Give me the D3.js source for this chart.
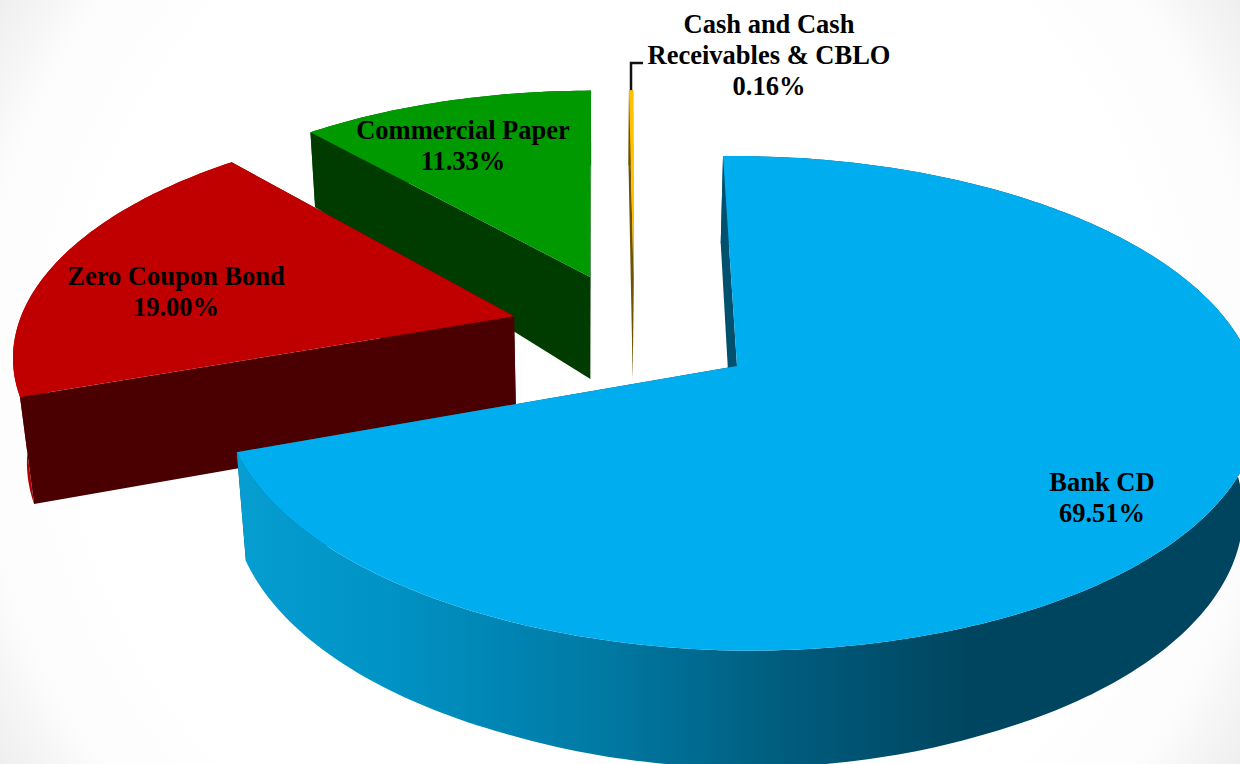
<!DOCTYPE html>
<html>
<head>
<meta charset="utf-8">
<script src="https://cdn.jsdelivr.net/npm/d3@7/dist/d3.min.js"></script>
<style>html,body{margin:0;padding:0;background:#fff;overflow:hidden}svg{display:block}</style>
</head>
<body>
<svg id="c" width="1240" height="764"></svg>
<script>
const categories = ["Bank CD", "Zero Coupon Bond", "Commercial Paper", "Cash and Cash Receivables & CBLO"];
const values = [69.51, 19.00, 11.33, 0.16];
const valueLabels = ["69.51%", "19.00%", "11.33%", "0.16%"];

const topColors = ["#00aeef", "#c00000", "#009900", "#ffc000"];
const cutColors = ["#00506e", "#4a0000", "#003c00", "#6e5400"];
const rimColors = ["url(#rimBlue)", "#b00000", "#006600", "#6e5400"];
// explode offsets of each slice on the pie's plane, in radii
const explodeX = [0, -0.45, -0.304, -0.214];
const explodeY = [0, 0.198, 0.38, 0.38];
const radii = [1, 1, 0.985, 0.99];
const labelLines = [["Bank CD", "69.51%"], ["Zero Coupon Bond", "19.00%"], ["Commercial Paper", "11.33%"], ["Cash and Cash", "Receivables & CBLO", "0.16%"]];
const labelX = [1102, 176, 463, 769];
const labelY = [491, 285, 139, 33];

const W = 1240, H = 764, cx = 737, cy = 366, R = 512, tilt = 0.472, persp = 0.151, perspX = -0.008;
const skewY = d3.scaleLinear().domain([-1, 0, 1]).range([-7.7, 0, 3]);
const vanish = [600, 4800];
const extrude = d3.scaleLinear().domain([133, 157, 277, 396, 620, 680]).range([75, 88, 102, 107, 114, 120]).clamp(true);

const svg = d3.select("#c");
const defs = svg.append("defs");
const bg = defs.append("radialGradient").attr("id", "bg").attr("gradientUnits", "userSpaceOnUse")
  .attr("cx", W / 2).attr("cy", H / 2).attr("r", 760);
[[0.7, "#ffffff"], [0.85, "#fcfcfc"], [1, "#e9e9e9"]].forEach(s => bg.append("stop").attr("offset", s[0]).attr("stop-color", s[1]));
const rim = defs.append("linearGradient").attr("id", "rimBlue").attr("gradientUnits", "userSpaceOnUse")
  .attr("x1", 240).attr("x2", 970).attr("y1", 0).attr("y2", 0);
[[0, "#069dd0"], [0.2, "#0093c5"], [0.5, "#0079a3"], [0.75, "#005c7d"], [1, "#00455f"]].forEach(s => rim.append("stop").attr("offset", s[0]).attr("stop-color", s[1]));

svg.append("rect").attr("width", W).attr("height", H).attr("fill", "url(#bg)");

const deg = Math.PI / 180;
const pie = d3.pie().sort(null).startAngle(-1.8 * deg).endAngle(358.2 * deg);
const arcs = pie(values);

function project(wx, wy) {
  const w = 1 + persp * wy + perspX * wx;
  return [cx + R * wx / w, cy - R * tilt * wy / w + skewY(wx)];
}
function lower(p) {
  const h = extrude(p[1]);
  const f = h / (vanish[1] - p[1]);
  return [p[0] + (vanish[0] - p[0]) * f, p[1] + h];
}
const line = d3.line();

function slicePoints(i) {
  const a = arcs[i], ox = explodeX[i], oy = explodeY[i], r = radii[i];
  const n = Math.max(2, Math.ceil((a.endAngle - a.startAngle) / deg));
  const angs = d3.range(n + 1).map(k => a.startAngle + (a.endAngle - a.startAngle) * k / n);
  return {
    apex: project(ox, oy),
    edge: angs.map(t => project(ox + r * Math.sin(t), oy + r * Math.cos(t)))
  };
}

const order = [3, 2, 1, 0];
order.forEach(i => {
  const g = svg.append("g");
  const s = slicePoints(i), a = arcs[i];
  const bottom = s.edge.map(lower);
  const cuts = [
    { e: s.edge[0], front: Math.cos(a.startAngle - Math.PI / 2) < 0 },
    { e: s.edge[s.edge.length - 1], front: Math.cos(a.endAngle + Math.PI / 2) < 0 }
  ];
  const drawCut = c => g.append("path").attr("d", line([s.apex, c.e, lower(c.e), lower(s.apex)]) + "Z").attr("fill", cutColors[i]);
  cuts.filter(c => !c.front).forEach(drawCut);
  g.append("path").attr("d", line(s.edge.concat(bottom.slice().reverse())) + "Z").attr("fill", rimColors[i]);
  cuts.filter(c => c.front).forEach(drawCut);
  g.append("path").attr("d", line([s.apex].concat(s.edge)) + "Z").attr("fill", topColors[i]);
});

// leader of the smallest slice
svg.append("path").attr("d", line([[631, 90], [631, 63], [643, 63]]))
  .attr("fill", "none").attr("stroke", "#111").attr("stroke-width", 2.5);

categories.forEach((c, i) => {
  const t = svg.append("text").attr("text-anchor", "middle")
    .attr("font-family", "'Liberation Serif','Times New Roman',serif")
    .attr("font-weight", "bold").attr("font-size", 26.5).attr("fill", "#000");
  labelLines[i].forEach((l, k) => {
    t.append("tspan").attr("x", labelX[i]).attr("y", labelY[i] + k * 31).text(l);
  });
});
</script>
</body>
</html>
